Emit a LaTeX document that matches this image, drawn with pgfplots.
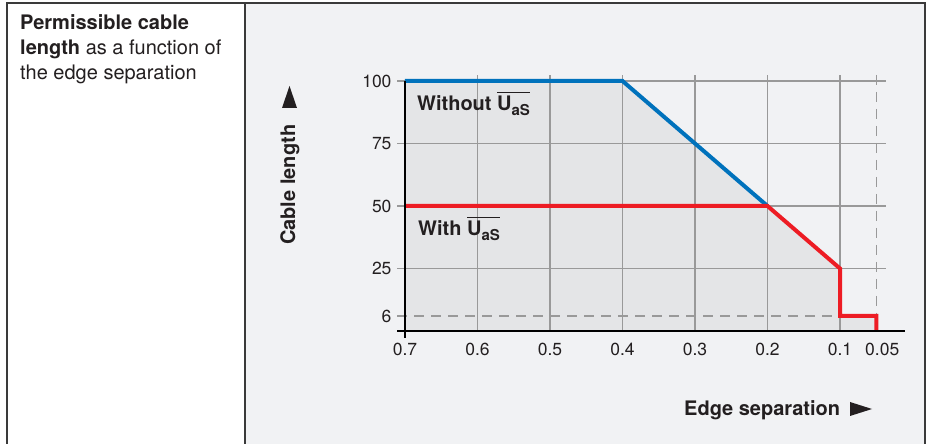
\documentclass[border=0pt]{standalone}
\usepackage{pgfplots}
\pgfplotsset{compat=1.18}
\usepackage{fontspec}
\setmainfont{TeX Gyre Heros}

\definecolor{panel}{HTML}{F1F2F4}
\definecolor{areagray}{HTML}{E4E5E7}
\definecolor{gridgray}{HTML}{999999}
\definecolor{blueline}{HTML}{0072BC}
\definecolor{redline}{HTML}{ED1C24}
\definecolor{framecol}{HTML}{3A3A3A}
\definecolor{txt}{HTML}{231F20}

% U_aS with a bar over it
\newsavebox{\uasbox}
\newcommand{\UaS}{\sbox{\uasbox}{U\raisebox{-4.5pt}{\fontsize{15}{15}\selectfont aS}}%
  \rlap{\raisebox{17.5pt}{\rule{\wd\uasbox}{1.4pt}}}\usebox{\uasbox}}

\begin{document}
\begin{tikzpicture}[x=1pt,y=1pt]
\useasboundingbox (0,0) rectangle (931,444);
\fill[white] (0,0) rectangle (931,444);
\fill[panel] (245,0) rectangle (925,441);
\draw[framecol, line width=1.3pt] (7,0) -- (7,441) -- (925,441) -- (925,0);
\draw[framecol, line width=1.3pt] (245,0) -- (245,441);

% left cell text
\node[anchor=base west, inner sep=0, text=txt, font=\fontsize{20}{24}\selectfont\bfseries] at (20,414) {Permissible cable};
\node[anchor=base west, inner sep=0, text=txt, font=\fontsize{20}{24}\selectfont] at (20,389) {\textbf{length} as a function of};
\node[anchor=base west, inner sep=0, text=txt, font=\fontsize{20}{24}\selectfont] at (20,364) {the edge separation};

\begin{axis}[
  at={(405pt,113pt)}, anchor=south west,
  scale only axis, width=500.25pt, height=256.25pt,
  x dir=reverse,
  xmin=0.01, xmax=0.7, ymin=0, ymax=102.5,
  axis line style={draw=none},
  xtick={0.7,0.6,0.5,0.4,0.3,0.2,0.1,0.05},
  xticklabels={0.7,0.6,0.5,0.4,0.3,0.2,0.1,\hspace*{12pt}0.05},
  ytick={6,25,50,75,100},
  yticklabels={6,25,50,75,100},
  xtick pos=bottom, ytick pos=left,
  tick style={draw=none},
  ticklabel style={font=\fontsize{17.5}{20}\selectfont, text=txt},
  xticklabel style={yshift=-9pt},
  yticklabel style={xshift=-10pt},
  clip=false,
  /pgf/number format/assume math mode=true,
]
% area under the limit curve
\addplot[fill=areagray, draw=none] coordinates {
  (0.7,0) (0.7,100) (0.4,100) (0.2,50) (0.1,25) (0.1,6) (0.05,6) (0.05,0)
} \closedcycle;

% grid
\pgfplotsinvokeforeach{100,75,50,25}{
  \draw[gridgray, line width=1.2pt] (axis cs:0.711,#1) -- (axis cs:0.036,#1);
}
\pgfplotsinvokeforeach{0.6,0.5,0.4,0.3,0.2,0.1}{
  \draw[gridgray, line width=1.2pt] (axis cs:#1,0) -- (axis cs:#1,102.4);
}
\draw[gridgray, line width=1.2pt, dash pattern=on 10pt off 7pt] (axis cs:0.711,6) -- (axis cs:0.1,6);
\draw[gridgray, line width=1.2pt, dash pattern=on 10pt off 7pt] (axis cs:0.05,102.4) -- (axis cs:0.05,0);

% limit curves
\addplot[blueline, line width=4pt] coordinates {
  (0.7,100) (0.4,100) (0.2,50)
};
\addplot[redline, line width=4pt] coordinates {
  (0.7,50) (0.2,50) (0.1,25) (0.1,6) (0.05,6) (0.05,0)
};

% axis lines
\draw[black, line width=1.6pt] (axis cs:0.711,0) -- (axis cs:0.01,0);
\draw[black, line width=1.6pt] (axis cs:0.7,-2.8) -- (axis cs:0.7,100);
\end{axis}

% curve labels
\node[anchor=base west, inner sep=0, text=txt, font=\fontsize{20}{24}\selectfont\bfseries] at (417,333) {Without \UaS};
\node[anchor=base west, inner sep=0, text=txt, font=\fontsize{20}{24}\selectfont\bfseries] at (418,208) {With \UaS};

% axis titles
\node[rotate=90, anchor=base west, inner sep=0, text=txt, font=\fontsize{20}{24}\selectfont\bfseries] at (295,199) {Cable length};
\fill[txt] (282,336) -- (297,336) -- (289.5,358) -- cycle;
\node[anchor=base west, inner sep=0, text=txt, font=\fontsize{20}{24}\selectfont\bfseries] at (684,28) {Edge separation};
\fill[txt] (850,42) -- (850,28) -- (872,35) -- cycle;
\end{tikzpicture}
\end{document}
